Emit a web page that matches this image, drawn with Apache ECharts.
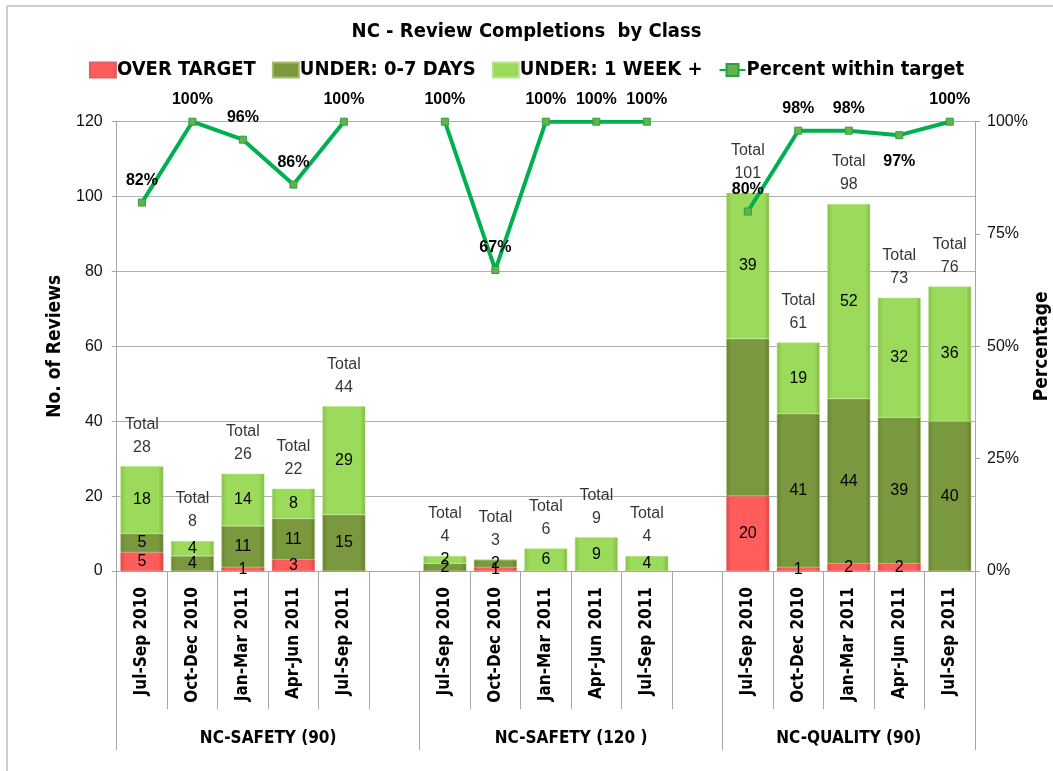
<!DOCTYPE html>
<html>
<head>
<meta charset="utf-8">
<script src="https://cdn.jsdelivr.net/npm/echarts@6/dist/echarts.min.js"></script>
<style>
html,body{margin:0;padding:0;background:#fff;}
#chart{width:1053px;height:771px;}
</style>
</head>
<body>
<div id="chart"></div>
<script>
// categories (blank entries are the gaps between the groups)
var categories = [
    'Jul-Sep 2010','Oct-Dec 2010','Jan-Mar 2011','Apr-Jun 2011','Jul-Sep 2011','',
    'Jul-Sep 2010','Oct-Dec 2010','Jan-Mar 2011','Apr-Jun 2011','Jul-Sep 2011','',
    'Jul-Sep 2010','Oct-Dec 2010','Jan-Mar 2011','Apr-Jun 2011','Jul-Sep 2011'
];
var groupNames = ['NC-SAFETY (90)', 'NC-SAFETY (120 )', 'NC-QUALITY (90)'];
var groupSizes = [6, 6, 5];

var overTarget = [5,0,1,3,0,null, 0,1,0,0,0,null, 20,1,2,2,0];
var under07    = [5,4,11,11,15,null, 2,2,0,0,0,null, 42,41,44,39,40];
var underWeek  = [18,4,14,8,29,null, 2,0,6,9,4,null, 39,19,52,32,36];
var totals     = [28,8,26,22,44,null, 4,3,6,9,4,null, 101,61,98,73,76];
var pctWithin  = [82,100,96,86,100,null, 100,67,100,100,100,null, 80,98,98,97,100];

var leftTicks = [0, 120, 20];   // min, max, step
var rightTicks = [0, 100, 25];

var boldFont = '"Liberation Sans Narrow", "DejaVu Sans Condensed", "Liberation Sans", sans-serif';
var plainFont = '"Liberation Sans", "DejaVu Sans", sans-serif';

// group boundaries and middles on the 0..17 scale
var groupEdges = [0], groupMids = [];
for (var g = 0; g < groupSizes.length; g++) {
    var start = groupEdges[groupEdges.length - 1];
    groupMids.push(start + groupSizes[g] / 2);
    groupEdges.push(start + groupSizes[g]);
}

function segLabel(p) {
    return p.value ? String(p.value) : '';
}

var chart = echarts.init(document.getElementById('chart'));

var barLabel = {
    show: true,
    position: 'inside',
    color: '#000',
    fontSize: 16,
    fontFamily: plainFont,
    formatter: segLabel
};

var oliveData = under07.map(function (v, i) {
    // the big olive segment of NC-QUALITY Jul-Sep 2010 carries no label
    if (i === 12) return { value: v, label: { show: false } };
    return v;
});

var pctData = pctWithin.map(function (v, i) {
    if (i === 15) return { value: v, label: { position: 'bottom', distance: 14 } };
    return v;
});

var option = {
    backgroundColor: '#fff',
    animation: false,
    textStyle: { fontFamily: plainFont },
    title: {
        text: 'NC - Review Completions  by Class',
        left: 'center',
        top: 17,
        textStyle: { fontFamily: boldFont, fontSize: 20, fontWeight: 'bold', color: '#000' }
    },
    legend: {
        top: 55,
        left: 'center',
        itemGap: 16,
        itemWidth: 26,
        itemHeight: 15,
        data: [
            { name: 'OVER TARGET', icon: 'rect' },
            { name: 'UNDER: 0-7 DAYS', icon: 'rect' },
            { name: 'UNDER: 1 WEEK +', icon: 'rect' },
            { name: 'Percent within target' }
        ],
        textStyle: { fontFamily: boldFont, fontSize: 20, fontWeight: 'bold', color: '#000', padding: [0, 0, 0, -4] }
    },
    grid: {
        left: 116.7,
        right: 78,
        top: 121.7,
        bottom: 200,
        outerBoundsMode: 'none',
        containLabel: false
    },
    xAxis: [
        {
            type: 'category',
            data: categories,
            axisLine: { lineStyle: { color: '#A6A6A6' } },
            axisTick: { show: true, interval: 0, length: 138, lineStyle: { color: '#A6A6A6' } },
            axisLabel: {
                interval: 0,
                rotate: 90,
                margin: 16,
                color: '#000',
                fontSize: 17,
                fontWeight: 'bold',
                fontFamily: boldFont
            }
        },
        {
            type: 'value',
            position: 'bottom',
            min: 0,
            max: categories.length,
            axisLine: { show: false },
            splitLine: { show: false },
            axisTick: { show: true, customValues: groupEdges, length: 179, lineStyle: { color: '#A6A6A6' } },
            axisLabel: {
                customValues: groupMids,
                margin: 159,
                color: '#000',
                fontSize: 17,
                fontWeight: 'bold',
                fontFamily: boldFont,
                formatter: function (v) {
                    var k = groupMids.indexOf(v);
                    return k >= 0 ? groupNames[k] : '';
                }
            }
        }
    ],
    yAxis: [
        {
            type: 'value',
            min: leftTicks[0],
            max: leftTicks[1],
            interval: leftTicks[2],
            name: 'No. of Reviews',
            nameLocation: 'middle',
            nameGap: 52,
            nameTextStyle: { fontFamily: boldFont, fontSize: 19, fontWeight: 'bold', color: '#000' },
            axisLine: { show: true, lineStyle: { color: '#A6A6A6' } },
            axisTick: { show: true, length: 5, lineStyle: { color: '#A6A6A6' } },
            axisLabel: { margin: 14, color: '#111', fontSize: 16 },
            splitLine: { show: true, lineStyle: { color: '#B0B0B0' } }
        },
        {
            type: 'value',
            min: rightTicks[0],
            max: rightTicks[1],
            interval: rightTicks[2],
            position: 'right',
            name: 'Percentage',
            nameLocation: 'middle',
            nameRotate: 90,
            nameGap: 58,
            nameMoveOverlap: false,
            nameTextStyle: { fontFamily: boldFont, fontSize: 19, fontWeight: 'bold', color: '#000' },
            axisLine: { show: true, lineStyle: { color: '#A6A6A6' } },
            axisTick: { show: true, length: 5, lineStyle: { color: '#A6A6A6' } },
            axisLabel: { margin: 12, color: '#111', fontSize: 16, formatter: '{value}%' },
            splitLine: { show: false }
        }
    ],
    series: [
        {
            name: 'OVER TARGET',
            type: 'bar',
            stack: 'reviews',
            barWidth: '85%',
            data: overTarget,
            label: barLabel,
            itemStyle: {
                color: new echarts.graphic.LinearGradient(0, 0, 1, 0, [
                    { offset: 0, color: '#E84848' },
                    { offset: 0.12, color: '#FF5C5C' },
                    { offset: 0.88, color: '#FF5C5C' },
                    { offset: 1, color: '#D94444' }
                ]),
                borderColor: '#E06060',
                borderWidth: 0.5
            }
        },
        {
            name: 'UNDER: 0-7 DAYS',
            type: 'bar',
            stack: 'reviews',
            data: oliveData,
            label: barLabel,
            itemStyle: {
                color: new echarts.graphic.LinearGradient(0, 0, 1, 0, [
                    { offset: 0, color: '#6A8534' },
                    { offset: 0.12, color: '#7A983E' },
                    { offset: 0.88, color: '#7A983E' },
                    { offset: 1, color: '#637D30' }
                ]),
                borderColor: '#A4BE6A',
                borderWidth: 0.5
            }
        },
        {
            name: 'UNDER: 1 WEEK +',
            type: 'bar',
            stack: 'reviews',
            data: underWeek,
            label: barLabel,
            itemStyle: {
                color: new echarts.graphic.LinearGradient(0, 0, 1, 0, [
                    { offset: 0, color: '#86C24A' },
                    { offset: 0.12, color: '#9BDA5A' },
                    { offset: 0.88, color: '#9BDA5A' },
                    { offset: 1, color: '#80B847' }
                ]),
                borderColor: '#B8E68A',
                borderWidth: 0.5
            }
        },
        {
            name: 'Total',
            type: 'scatter',
            data: totals,
            symbolSize: 1,
            itemStyle: { color: 'rgba(0,0,0,0)' },
            silent: true,
            label: {
                show: true,
                position: 'top',
                distance: 7,
                color: '#000',
                fontSize: 16,
                lineHeight: 23,
                formatter: function (p) { return 'Total\n' + p.value; }
            },
            z: 3
        },
        {
            name: 'Percent within target',
            type: 'line',
            yAxisIndex: 1,
            data: pctData,
            connectNulls: false,
            symbol: 'rect',
            symbolSize: 7,
            lineStyle: { color: '#00B050', width: 4 },
            itemStyle: { color: '#66B24A', borderColor: '#2E9E45', borderWidth: 1 },
            label: {
                show: true,
                position: 'top',
                distance: 10,
                color: '#000',
                fontSize: 16,
                fontWeight: 'bold',
                formatter: '{c}%'
            },
            z: 5
        }
    ],
    graphic: [
        { type: 'line', shape: { x1: 7, y1: 6, x2: 7, y2: 771 }, style: { stroke: '#BFBFBF', lineWidth: 1.5 } },
        { type: 'line', shape: { x1: 7, y1: 6, x2: 1053, y2: 6 }, style: { stroke: '#BFBFBF', lineWidth: 1.5 } }
    ]
};

chart.setOption(option);
</script>
</body>
</html>
